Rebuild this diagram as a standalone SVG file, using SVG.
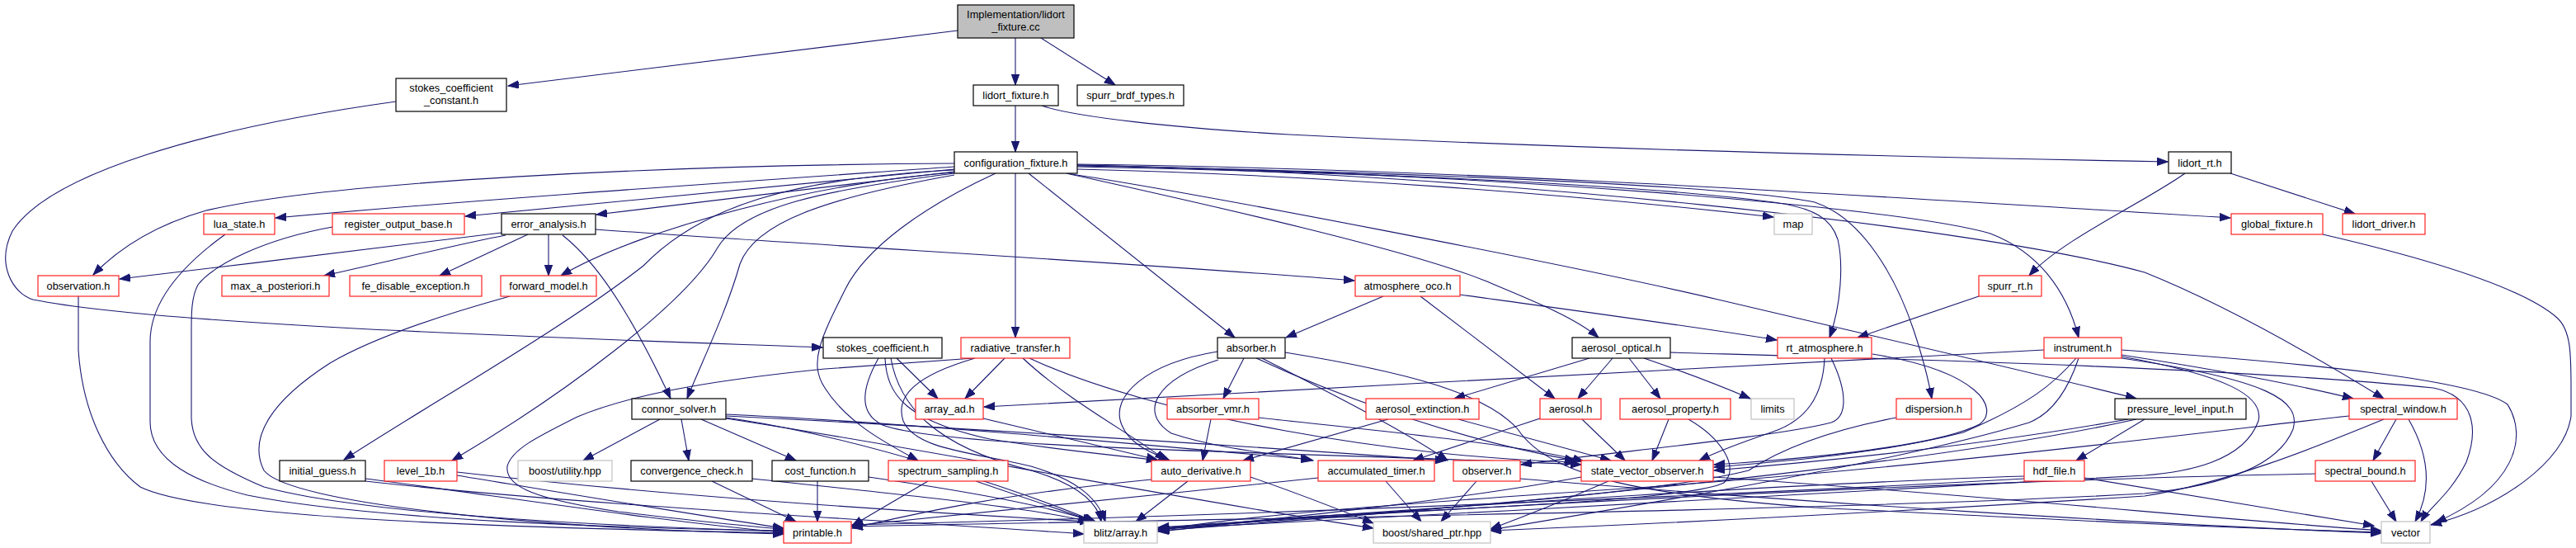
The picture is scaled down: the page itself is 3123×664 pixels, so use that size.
<svg xmlns="http://www.w3.org/2000/svg" width="3123" height="664" viewBox="0 0 3123 664">
<style>
.node rect{fill:#fff;stroke-width:1.2}
.b rect{stroke:#000}
.r rect{stroke:#ff2020}
.g rect{stroke:#c0c0c0}
.root rect{fill:#bfbfbf;stroke:#000}
.node text{font-family:"Liberation Sans",Arial,sans-serif;font-size:12.8px;text-anchor:middle;fill:#000}
#edges path{fill:none;stroke:#191970;stroke-width:1.1;marker-end:url(#a)}
</style>
<defs>
<marker id="a" markerUnits="userSpaceOnUse" markerWidth="14" markerHeight="11" refX="13" refY="5" orient="auto"><path d="M0,0.3 L13,5 L0,9.7 z" fill="#191970" stroke="#191970" stroke-width="1"/></marker>
</defs>
<rect width="3123" height="664" fill="#fff"/>
<g id="edges">
<path d="M1161,37 L616,104"/>
<path d="M1231,46 L1231,103"/>
<path d="M1262,46 L1352,103"/>
<path d="M1231,128 L1231,184"/>
<path d="M1263,128 C1300,141 1420,155 1563,163 C1900,180 2300,190 2628,196"/>
<path d="M480,123 C250,155 60,210 15,280 C-5,320 15,355 40,363 C200,395 700,410 997,421"/>
<path d="M1157,198 C800,200 400,220 250,255 C180,275 140,305 113,333"/>
<path d="M1157,202 C900,220 600,240 334,264"/>
<path d="M1157,205 L564,262"/>
<path d="M1157,208 L723,260"/>
<path d="M1157,209 C1000,220 780,275 680,334"/>
<path d="M1157,206 C960,216 850,250 780,322 C680,400 520,490 417,557"/>
<path d="M1157,210 C1000,230 900,250 870,300 C830,370 680,480 548,558"/>
<path d="M1157,212 C1000,240 915,270 897,320 C880,380 850,440 833,483"/>
<path d="M1207,210 C1120,250 1050,300 1025,350 C995,410 980,440 1000,470 C1025,510 1070,535 1113,558"/>
<path d="M1231,210 L1231,409"/>
<path d="M1247,210 L1497,409"/>
<path d="M1293,210 C1450,245 1700,300 1800,340 C1860,365 1910,385 1938,409"/>
<path d="M1293,210 C1450,234 1900,320 2083,363 C2300,414 2500,460 2590,483"/>
<path d="M1306,205 C1600,212 1900,235 2150,263"/>
<path d="M1306,202 C1700,210 2000,225 2150,245 C2200,252 2220,265 2228,290 C2235,320 2232,370 2218,409"/>
<path d="M1306,201 C1700,208 2100,225 2200,245 C2260,265 2300,340 2320,400 C2330,430 2338,460 2342,483"/>
<path d="M1306,200 C1800,210 2300,250 2413,283 C2470,305 2505,350 2520,409"/>
<path d="M1306,200 C1800,210 2400,275 2600,330 C2700,370 2820,440 2890,483"/>
<path d="M1306,199 C1800,205 2300,240 2704,264"/>
<path d="M2649,210 C2600,245 2500,290 2460,334"/>
<path d="M2704,210 L2855,259"/>
<path d="M2399,359 L2252,409"/>
<path d="M2816,284 C2950,315 3060,350 3100,385 C3117,400 3117,430 3117,470 L3117,504 C3110,560 3030,615 2947,636"/>
<path d="M608,282 C500,295 300,320 145,338"/>
<path d="M613,285 C560,295 500,310 393,334"/>
<path d="M640,284 L533,334"/>
<path d="M665,284 L665,334"/>
<path d="M682,285 C720,315 760,370 813,483"/>
<path d="M722,278 C1000,298 1400,320 1642,340"/>
<path d="M1677,359 L1559,409"/>
<path d="M1722,359 L1885,483"/>
<path d="M1770,357 C1900,375 2050,395 2154,412"/>
<path d="M273,284 C230,315 182,360 182,414 L182,511 C182,560 240,585 300,600 C450,630 750,640 950,643"/>
<path d="M403,275 C320,290 260,320 240,345 C232,360 232,380 232,400 L232,504 C232,545 260,565 320,590 C450,625 750,638 950,644"/>
<path d="M95,359 L95,424 C100,500 130,560 170,590 C250,630 650,640 950,646"/>
<path d="M618,359 C560,375 460,405 400,440 C330,485 300,530 320,570 C350,610 650,640 950,647"/>
<path d="M1180,434 C1100,440 1043,444 1000,447 C850,462 760,480 700,505 C650,530 620,545 615,565 C612,590 650,605 750,620 C850,632 910,638 950,641"/>
<path d="M443,580 C600,600 800,632 950,645"/>
<path d="M443,583 C700,612 1100,632 1314,647"/>
<path d="M554,576 C700,600 880,630 950,640"/>
<path d="M554,572 C800,600 1100,620 1322,632"/>
<path d="M800,508 L707,558"/>
<path d="M826,508 L835,558"/>
<path d="M850,508 L965,558"/>
<path d="M880,502 C1100,512 1400,540 1590,557"/>
<path d="M880,504 C1200,520 1500,540 1753,558"/>
<path d="M880,506 C1050,530 1250,600 1328,632"/>
<path d="M880,507 C1100,540 1400,600 1665,640"/>
<path d="M863,583 L965,632"/>
<path d="M912,580 C1100,600 1250,615 1320,632"/>
<path d="M991,583 L991,632"/>
<path d="M1053,578 C1150,592 1270,612 1325,632"/>
<path d="M1087,434 L1137,483"/>
<path d="M1073,434 C1075,480 1100,510 1200,532 C1300,548 1370,553 1403,558"/>
<path d="M1065,434 C1045,470 1040,500 1070,515 C1150,545 1600,548 1917,563"/>
<path d="M1080,434 C1090,490 1130,540 1250,570 C1300,585 1330,605 1335,632"/>
<path d="M1218,434 L1170,483"/>
<path d="M1182,434 C1110,455 1085,480 1095,510 C1110,545 1180,548 1250,565 C1300,580 1330,600 1340,632"/>
<path d="M1240,434 C1300,490 1380,530 1413,558"/>
<path d="M1248,434 C1400,505 1700,555 1910,560"/>
<path d="M1192,507 L1403,557"/>
<path d="M1508,434 L1483,483"/>
<path d="M1476,426 C1390,440 1345,480 1360,515 C1370,540 1400,550 1418,558"/>
<path d="M1477,436 C1400,460 1380,500 1420,525 C1480,545 1550,550 1592,558"/>
<path d="M1523,434 C1600,470 1750,530 1910,558"/>
<path d="M1530,434 C1600,470 1700,520 1755,558"/>
<path d="M1558,427 C1700,450 1800,475 1840,520 C1880,580 2000,600 2200,615 C2500,630 2700,640 2887,645"/>
<path d="M1468,508 L1458,558"/>
<path d="M1526,506 C1700,525 1850,540 1920,559"/>
<path d="M1927,434 L1763,483"/>
<path d="M1955,434 L1913,483"/>
<path d="M1975,434 L2013,483"/>
<path d="M1993,434 C2040,450 2080,465 2122,483"/>
<path d="M2025,427 C2300,435 2700,445 2950,470 C3000,480 3005,520 2990,560 C2970,600 2945,615 2935,632"/>
<path d="M1683,508 L1507,558"/>
<path d="M1768,508 L1953,558"/>
<path d="M1867,507 L1713,558"/>
<path d="M1918,508 L1970,558"/>
<path d="M2023,508 L2003,558"/>
<path d="M2047,508 C2085,530 2110,565 2090,585 C2050,605 1800,615 1600,625 C1500,632 1450,640 1404,644"/>
<path d="M2270,429 C2400,450 2425,495 2400,514 C2350,540 2200,555 2078,563"/>
<path d="M2220,434 C2240,475 2240,505 2220,512 C2150,530 1950,548 1844,563"/>
<path d="M2212,434 C2210,480 2190,510 2147,524 C2100,540 2080,548 2060,558"/>
<path d="M2299,506 C2200,525 2150,550 2120,570 C2000,600 1700,620 1404,641"/>
<path d="M2478,424 C2200,440 1600,470 1193,493"/>
<path d="M2572,430 C2700,450 2800,470 2853,483"/>
<path d="M2517,434 C2490,465 2460,490 2380,524 C2280,550 2150,560 2078,566"/>
<path d="M2572,424 C2800,440 3000,460 3040,490 C3065,530 3050,590 2953,633"/>
<path d="M2572,432 C2700,455 2745,480 2738,510 C2720,560 2650,572 2600,576 C2300,595 1800,620 1404,641"/>
<path d="M2572,434 C2750,460 2790,485 2780,520 C2760,570 2680,590 2600,598 C2200,620 1500,628 1033,638"/>
<path d="M2520,434 C2508,470 2490,500 2460,512 C2300,560 2000,610 1807,642"/>
<path d="M2600,508 L2517,558"/>
<path d="M2580,508 C2400,540 2200,560 2078,570"/>
<path d="M2590,508 C2400,550 2000,600 1405,643"/>
<path d="M2905,508 L2877,558"/>
<path d="M2920,508 C2950,560 2945,600 2928,632"/>
<path d="M2848,504 C2700,520 2400,560 2000,590 C1700,610 1500,625 1404,643"/>
<path d="M2890,508 C2800,545 2700,585 2600,601 C2300,620 2000,635 1807,643"/>
<path d="M2875,583 L2905,632"/>
<path d="M2807,574 C2500,580 2000,600 1404,639"/>
<path d="M2527,579 L2878,637"/>
<path d="M2454,577 C2200,585 1800,610 1404,640"/>
<path d="M2454,580 C2100,600 1500,625 1033,636"/>
<path d="M1917,578 C1800,600 1600,625 1404,642"/>
<path d="M1950,583 C1900,605 1850,625 1807,641"/>
<path d="M2077,578 C2400,600 2700,630 2887,643"/>
<path d="M1790,583 L1747,632"/>
<path d="M1843,580 C2200,610 2600,635 2887,646"/>
<path d="M1680,583 L1723,632"/>
<path d="M1598,579 C1400,600 1150,625 1033,637"/>
<path d="M1396,581 C1200,600 1100,625 1033,640"/>
<path d="M1440,583 L1377,632"/>
<path d="M1125,583 L1033,637"/>
<path d="M1183,583 L1327,632"/>
<path d="M1516,578 C1580,600 1630,620 1665,634"/>
</g>
<g id="n0" class="node root"><rect x="1161" y="6" width="141" height="40"/><text x="1231.5" y="22">Implementation/lidort</text><text x="1231.5" y="37">_fixture.cc</text></g>
<g id="n1" class="node b"><rect x="480" y="95" width="134" height="40"/><text x="547" y="111">stokes_coefficient</text><text x="547" y="126">_constant.h</text></g>
<g id="n2" class="node b"><rect x="1180" y="103" width="103" height="25"/><text x="1231.5" y="119.5">lidort_fixture.h</text></g>
<g id="n3" class="node b"><rect x="1306" y="103" width="129" height="25"/><text x="1370.5" y="119.5">spurr_brdf_types.h</text></g>
<g id="n4" class="node b"><rect x="1157" y="184" width="149" height="26"/><text x="1231.5" y="201.5">configuration_fixture.h</text></g>
<g id="n5" class="node b"><rect x="2629" y="184" width="76" height="26"/><text x="2667" y="201.5">lidort_rt.h</text></g>
<g id="n6" class="node r"><rect x="247" y="259" width="86" height="25"/><text x="290" y="276">lua_state.h</text></g>
<g id="n7" class="node r"><rect x="403" y="259" width="160" height="25"/><text x="483" y="276">register_output_base.h</text></g>
<g id="n8" class="node b"><rect x="608" y="259" width="114" height="25"/><text x="665" y="276">error_analysis.h</text></g>
<g id="n9" class="node g"><rect x="2151" y="259" width="46" height="25"/><text x="2174" y="276">map</text></g>
<g id="n10" class="node r"><rect x="2705" y="259" width="111" height="25"/><text x="2760.5" y="276">global_fixture.h</text></g>
<g id="n11" class="node r"><rect x="2840" y="259" width="100" height="25"/><text x="2890" y="276">lidort_driver.h</text></g>
<g id="n12" class="node r"><rect x="46" y="334" width="98" height="25"/><text x="95" y="351">observation.h</text></g>
<g id="n13" class="node r"><rect x="269" y="334" width="130" height="25"/><text x="334" y="351">max_a_posteriori.h</text></g>
<g id="n14" class="node r"><rect x="424" y="334" width="160" height="25"/><text x="504" y="351">fe_disable_exception.h</text></g>
<g id="n15" class="node r"><rect x="607" y="334" width="116" height="25"/><text x="665" y="351">forward_model.h</text></g>
<g id="n16" class="node r"><rect x="1643" y="334" width="127" height="25"/><text x="1706.5" y="351">atmosphere_oco.h</text></g>
<g id="n17" class="node r"><rect x="2399" y="334" width="76" height="25"/><text x="2437" y="351">spurr_rt.h</text></g>
<g id="n18" class="node b"><rect x="998" y="409" width="144" height="25"/><text x="1070" y="426">stokes_coefficient.h</text></g>
<g id="n19" class="node r"><rect x="1165" y="409" width="132" height="25"/><text x="1231" y="426">radiative_transfer.h</text></g>
<g id="n20" class="node b"><rect x="1476" y="409" width="82" height="25"/><text x="1517" y="426">absorber.h</text></g>
<g id="n21" class="node b"><rect x="1906" y="409" width="119" height="25"/><text x="1965.5" y="426">aerosol_optical.h</text></g>
<g id="n22" class="node r"><rect x="2155" y="409" width="114" height="25"/><text x="2212" y="426">rt_atmosphere.h</text></g>
<g id="n23" class="node r"><rect x="2478" y="409" width="94" height="25"/><text x="2525" y="426">instrument.h</text></g>
<g id="n24" class="node b"><rect x="766" y="483" width="114" height="25"/><text x="823" y="500">connor_solver.h</text></g>
<g id="n25" class="node r"><rect x="1110" y="483" width="82" height="25"/><text x="1151" y="500">array_ad.h</text></g>
<g id="n26" class="node r"><rect x="1415" y="483" width="111" height="25"/><text x="1470.5" y="500">absorber_vmr.h</text></g>
<g id="n27" class="node r"><rect x="1656" y="483" width="137" height="25"/><text x="1724.5" y="500">aerosol_extinction.h</text></g>
<g id="n28" class="node r"><rect x="1867" y="483" width="74" height="25"/><text x="1904" y="500">aerosol.h</text></g>
<g id="n29" class="node r"><rect x="1964" y="483" width="134" height="25"/><text x="2031" y="500">aerosol_property.h</text></g>
<g id="n30" class="node g"><rect x="2123" y="483" width="52" height="25"/><text x="2149" y="500">limits</text></g>
<g id="n31" class="node r"><rect x="2299" y="483" width="91" height="25"/><text x="2344.5" y="500">dispersion.h</text></g>
<g id="n32" class="node b"><rect x="2564" y="483" width="159" height="25"/><text x="2643.5" y="500">pressure_level_input.h</text></g>
<g id="n33" class="node r"><rect x="2848" y="483" width="131" height="25"/><text x="2913.5" y="500">spectral_window.h</text></g>
<g id="n34" class="node b"><rect x="339" y="558" width="104" height="25"/><text x="391" y="575">initial_guess.h</text></g>
<g id="n35" class="node r"><rect x="466" y="558" width="88" height="25"/><text x="510" y="575">level_1b.h</text></g>
<g id="n36" class="node g"><rect x="628" y="558" width="114" height="25"/><text x="685" y="575">boost/utility.hpp</text></g>
<g id="n37" class="node b"><rect x="765" y="558" width="147" height="25"/><text x="838.5" y="575">convergence_check.h</text></g>
<g id="n38" class="node b"><rect x="936" y="558" width="117" height="25"/><text x="994.5" y="575">cost_function.h</text></g>
<g id="n39" class="node r"><rect x="1077" y="558" width="145" height="25"/><text x="1149.5" y="575">spectrum_sampling.h</text></g>
<g id="n40" class="node r"><rect x="1396" y="558" width="120" height="25"/><text x="1456" y="575">auto_derivative.h</text></g>
<g id="n41" class="node r"><rect x="1598" y="558" width="141" height="25"/><text x="1668.5" y="575">accumulated_timer.h</text></g>
<g id="n42" class="node r"><rect x="1762" y="558" width="81" height="25"/><text x="1802.5" y="575">observer.h</text></g>
<g id="n43" class="node r"><rect x="1917" y="558" width="160" height="25"/><text x="1997" y="575">state_vector_observer.h</text></g>
<g id="n44" class="node r"><rect x="2454" y="558" width="73" height="25"/><text x="2490.5" y="575">hdf_file.h</text></g>
<g id="n45" class="node r"><rect x="2807" y="558" width="121" height="25"/><text x="2867.5" y="575">spectral_bound.h</text></g>
<g id="n46" class="node r"><rect x="950" y="632" width="82" height="26"/><text x="991" y="649.5">printable.h</text></g>
<g id="n47" class="node g"><rect x="1314" y="632" width="89" height="26"/><text x="1358.5" y="649.5">blitz/array.h</text></g>
<g id="n48" class="node g"><rect x="1665" y="632" width="142" height="26"/><text x="1736" y="649.5">boost/shared_ptr.hpp</text></g>
<g id="n49" class="node g"><rect x="2887" y="632" width="59" height="26"/><text x="2916.5" y="649.5">vector</text></g>
</svg>
